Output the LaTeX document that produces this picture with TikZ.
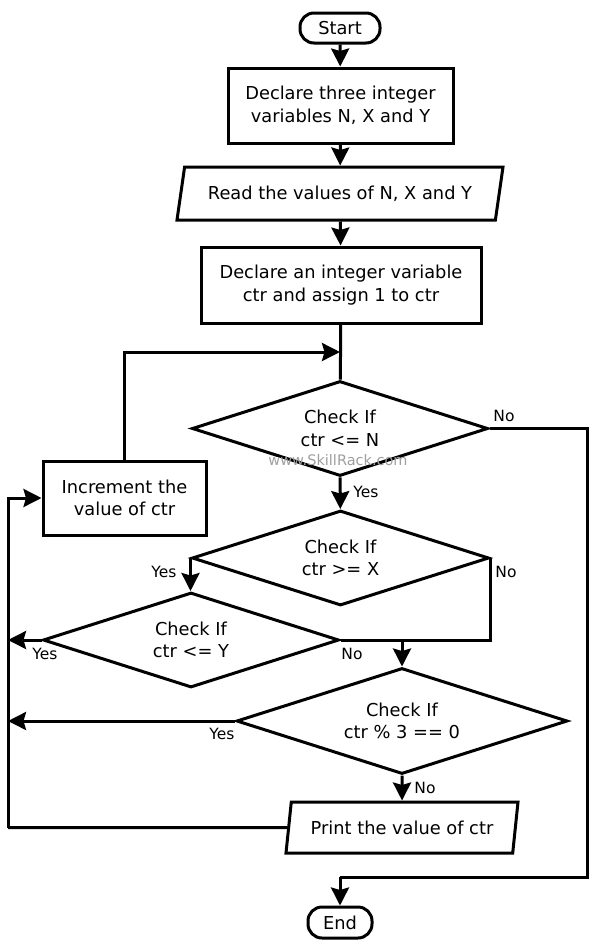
\documentclass[tikz,border=0pt]{standalone}
\usepackage{fontspec}
\setmainfont{DejaVu Sans}
\usetikzlibrary{shapes.geometric,arrows.meta}
\begin{document}
\begin{tikzpicture}[x=1pt,y=-1pt,
  base/.style={draw,line width=3pt,align=center,font=\fontsize{17.8}{22.5}\selectfont,inner sep=0pt},
  term/.style={base,rectangle,rounded corners=14pt},
  proc/.style={base,rectangle},
  io/.style={base,trapezium,trapezium stretches body,trapezium left angle=64,trapezium right angle=116},
  dec/.style={base,diamond,aspect=3},
  conn/.style={line width=3pt},
  arr/.style={conn,-{Stealth[length=18pt,width=18pt,inset=2.5pt]}},
  lbl/.style={font=\fontsize{15.5}{17}\selectfont,inner sep=0pt}]
\useasboundingbox (0,0) rectangle (596,951);
\node[term,minimum width=80pt,minimum height=30pt] (start) at (340,28) {Start};
\node[proc,minimum width=225pt,minimum height=75pt] (b1) at (340.5,105.5) {Declare three integer\\variables N, X and Y};
\node[io,minimum width=326pt,minimum height=53pt] (read) at (340,193.5) {Read the values of N, X and Y};
\node[proc,minimum width=280pt,minimum height=76pt] (b3) at (341,285) {Declare an integer variable\\ctr and assign 1 to ctr};
\node[dec,minimum width=296pt,minimum height=95pt] (d1) at (340,428.5) {Check If\\ctr <= N};
\node[proc,minimum width=163pt,minimum height=74pt] (inc) at (124.5,498) {Increment the\\value of ctr};
\node[dec,minimum width=297pt,minimum height=95pt] (d2) at (340.5,558) {Check If\\ctr >= X};
\node[dec,minimum width=296pt,minimum height=95pt] (d3) at (191,640) {Check If\\ctr <= Y};
\node[dec,minimum width=331pt,minimum height=106pt] (d4) at (402,721) {Check If\\ctr \% 3 == 0};
\node[io,minimum width=232pt,minimum height=51pt,trapezium left angle=69,trapezium right angle=111] (print) at (402,827.5) {Print the value of ctr};
\node[term,minimum width=64pt,minimum height=31pt] (end) at (340,922.5) {End};
\node[text=gray!75,font=\fontsize{14.5}{16}\selectfont] (wm) at (338,460) {www.SkillRack.com};
% coordinates
\coordinate (m) at (340,352);
\coordinate (r1) at (587,428.5);
\coordinate (r2) at (587,877);
\coordinate (e1) at (340,877);
\coordinate (j) at (402,640);
\coordinate (lb) at (8,827.5);
\coordinate (lt) at (8,498);
\coordinate (l3) at (8,640);
\coordinate (l4) at (8,721);
% connectors
\draw[arr] (start) -- (b1);
\draw[arr] (b1) -- (read);
\draw[arr] (read) -- (b3);
\draw[conn] (b3) -- (d1);
\draw[arr] (inc.north) |- (m);
\draw[conn] (d1.east) -- (r1) -- (r2) -- (e1);
\draw[arr] (e1) -- (end);
\draw[arr] (d1) -- (d2);
\draw[arr] (d2.west) -- (d2.west |- d3.north);
\draw[conn] (d2.east) |- (j);
\draw[conn] (d3.east) -- (j);
\draw[arr] (j) -- (d4.north);
\draw[arr] (d3.west) -- (l3);
\draw[arr] (d4.west) -- (l4);
\draw[arr] (d4) -- (print);
\draw[conn] (print.west) -- (lb);
\draw[arr] (lb) -- (lt) -- (inc.west);
% labels
\node[lbl] (n1) at (504,416) {No};
\node[lbl] (y1) at (366,492) {Yes};
\node[lbl] (y2) at (164,572) {Yes};
\node[lbl] (n2) at (506,572) {No};
\node[lbl] (y3) at (45,654) {Yes};
\node[lbl] (n3) at (352,654) {No};
\node[lbl] (y4) at (222,734) {Yes};
\node[lbl] (n4) at (425,788) {No};
\end{tikzpicture}
\end{document}
